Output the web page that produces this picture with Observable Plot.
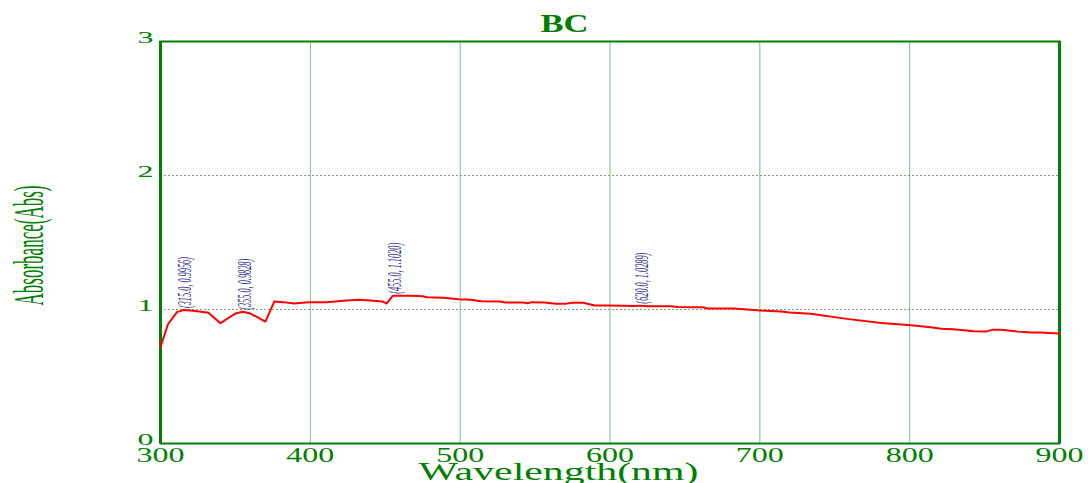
<!DOCTYPE html>
<html>
<head>
<meta charset="utf-8">
<script src="https://cdn.jsdelivr.net/npm/d3@7"></script>
<script src="https://cdn.jsdelivr.net/npm/@observablehq/plot@0.6"></script>
<style>
  html, body { margin: 0; padding: 0; background: #fff; }
  #chart svg { display: block; }
</style>
</head>
<body>
<div id="chart"></div>
<script>
const wavelength = [300,305,311,315,322,332,340,350,355,360,370,376,382,389,399,411,422,432,440,448,451,455,467,475,478,489,499,507,514,527,530,542,545,548,556,564,570,575,582,587,590,600,616,620,625,641,645,662,665,683,694,700,714,720,734,758,781,801,814,821,829,843,851,855,861,872,881,887,900];
const absorbance = [0.72,0.89,0.98,0.9956,0.99,0.975,0.898,0.97,0.9828,0.97,0.91,1.06,1.055,1.045,1.055,1.055,1.065,1.072,1.068,1.06,1.045,1.102,1.102,1.099,1.092,1.087,1.077,1.072,1.062,1.06,1.053,1.052,1.046,1.055,1.052,1.043,1.042,1.05,1.05,1.038,1.03,1.03,1.027,1.0289,1.025,1.025,1.018,1.017,1.008,1.007,0.998,0.993,0.985,0.978,0.968,0.93,0.90,0.883,0.868,0.856,0.853,0.838,0.835,0.848,0.848,0.835,0.828,0.828,0.82];
const peakX = [315, 355, 455, 620];
const peakY = [0.9956, 0.9828, 1.1020, 1.0289];
const peakLabels = ["(315.0, 0.9956)", "(355.0, 0.9828)", "(455.0, 1.1020)", "(620.0, 1.0289)"];
const xTicks = [300, 400, 500, 600, 700, 800, 900];
const yTicks = [0, 1, 2, 3];
const title = "BC";
const xTitle = "Wavelength(nm)";
const yTitle = "Absorbance(Abs)";

const spectrum = wavelength.map((w, i) => ({w, a: absorbance[i]}));
const peaks = peakX.map((w, i) => ({w, a: peakY[i], label: peakLabels[i]}));

const green = "#008000";
const serif = "'Liberation Serif', 'DejaVu Serif', serif";

const chart = Plot.plot({
  width: 1088,
  height: 483,
  marginLeft: 160,
  marginRight: 29,
  marginTop: 41,
  marginBottom: 40,
  style: {fontFamily: serif, background: "#fff"},
  x: {domain: [300, 900], axis: null},
  y: {domain: [0, 3], axis: null},
  marks: [
    Plot.ruleX(xTicks.slice(1, -1), {stroke: "#7fc07f", strokeWidth: 1}),
    Plot.ruleY([1, 2], {stroke: "#7fa07f", strokeWidth: 1, strokeDasharray: "2,2"}),
    Plot.frame({stroke: green, strokeWidth: 2}),
    Plot.ruleX([300, 900], {stroke: green, strokeWidth: 3}),
    Plot.axisX({ticks: xTicks, tickSize: 0, tickPadding: 4, fontSize: 20, color: green, label: null, tickFormat: d => String(d)}),
    Plot.axisY({ticks: yTicks, tickSize: 0, tickPadding: 7, fontSize: 17, color: green, label: null, dy: -4, tickFormat: d => String(d)}),
    Plot.line(spectrum, {x: "w", y: "a", stroke: "#ff0000", strokeWidth: 2}),
    Plot.text(peaks, {x: "w", y: "a", text: "label", rotate: -90, textAnchor: "start", dx: 2.5, dy: -2,
      fontSize: 18, fontStyle: "italic", fill: "#303090"}),
    Plot.text([title], {frameAnchor: "top", dx: -45.5, dy: -28, fontSize: 26, fontWeight: "bold", fill: green}),
    Plot.text([xTitle], {frameAnchor: "bottom", dx: -51.5, dy: 36, fontSize: 25, fill: green}),
    Plot.text([yTitle], {frameAnchor: "left", textAnchor: "middle", dx: -131, dy: 3, rotate: -90, fontSize: 42, fill: green})
  ]
});

document.getElementById("chart").appendChild(chart);

const fits = new Map([
  [title, 48], [xTitle, 280], [yTitle, 120]
]);
xTicks.forEach(t => fits.set(String(t), 48));
yTicks.forEach(t => fits.set(String(t), 16));
peakLabels.forEach(t => fits.set(t, 51));
d3.select(chart).selectAll("text").each(function() {
  const s = this.textContent;
  if (fits.has(s)) {
    this.setAttribute("textLength", fits.get(s));
    this.setAttribute("lengthAdjust", "spacingAndGlyphs");
  }
});
</script>
</body>
</html>
